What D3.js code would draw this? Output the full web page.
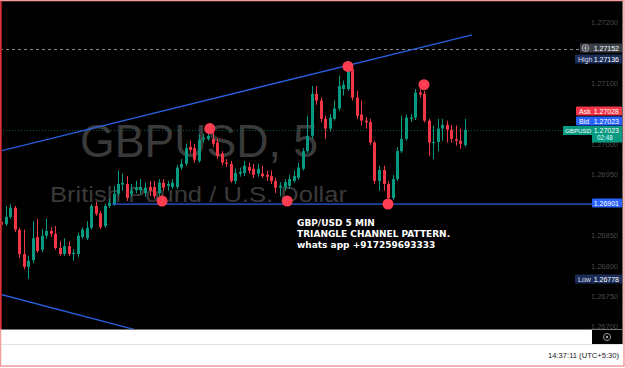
<!DOCTYPE html>
<html>
<head>
<meta charset="utf-8">
<script src="https://cdn.jsdelivr.net/npm/d3@7"></script>
<style>
html, body { margin: 0; padding: 0; background: #fff; overflow: hidden; }
svg { display: block; }
</style>
</head>
<body>
<div id="graf"></div>
<script>
// Datos de las velas (GBPUSD, 5 min)
const apertura = [1.26872,1.26868,1.26880,1.26895,1.26859,1.26819,1.26798,1.26809,1.26847,1.26826,
  1.26849,1.26857,1.26852,1.26829,1.26819,1.26832,1.26819,1.26819,1.26847,1.26845,
  1.26862,1.26898,1.26886,1.26865,1.26898,1.26901,1.26918,1.26933,1.26934,1.26918,
  1.26924,1.26924,1.26919,1.26929,1.26929,1.26919,1.26936,1.26931,1.26929,1.26929,
  1.26961,1.26967,1.26995,1.26993,1.26972,1.27007,1.27008,1.27008,1.27002,1.26984,
  1.26969,1.26967,1.26939,1.26951,1.26952,1.26962,1.26959,1.26951,1.26951,1.26949,
  1.26947,1.26939,1.26928,1.26929,1.26931,1.26939,1.26944,1.26959,1.26988,1.27013,
  1.27082,1.27071,1.27041,1.27025,1.27041,1.27058,1.27090,1.27090,1.27123,1.27076,
  1.27048,1.27038,1.27036,1.27002,1.26939,1.26957,1.26934,1.26911,1.26942,1.26988,
  1.27008,1.27041,1.27043,1.27084,1.27082,1.27038,1.27002,1.27003,1.27025,1.27031,
  1.27023,1.27008,1.27005,1.26998]
const maximo = [1.26875,1.26898,1.26901,1.26898,1.26862,1.26859,1.26816,1.26873,1.26877,1.26860,
  1.26877,1.26863,1.26865,1.26840,1.26845,1.26840,1.26827,1.26854,1.26863,1.26873,
  1.26901,1.26905,1.26890,1.26901,1.26910,1.26931,1.26956,1.26951,1.26947,1.26934,
  1.26939,1.26942,1.26936,1.26939,1.26939,1.26942,1.26942,1.26939,1.26942,1.26965,
  1.26975,1.27000,1.27005,1.27000,1.27016,1.27016,1.27020,1.27018,1.27008,1.26988,
  1.26975,1.26972,1.26959,1.26961,1.26972,1.26969,1.26967,1.26967,1.26964,1.26956,
  1.26956,1.26944,1.26937,1.26942,1.26949,1.26956,1.26969,1.26993,1.27046,1.27095,
  1.27095,1.27076,1.27046,1.27049,1.27071,1.27112,1.27104,1.27136,1.27128,1.27087,
  1.27071,1.27044,1.27041,1.27005,1.26964,1.26964,1.26939,1.26949,1.26995,1.27046,
  1.27048,1.27049,1.27090,1.27090,1.27087,1.27041,1.27030,1.27041,1.27041,1.27038,
  1.27031,1.27030,1.27025,1.27041]
const minimo = [1.26863,1.26865,1.26877,1.26855,1.26812,1.26794,1.26778,1.26804,1.26821,1.26822,
  1.26844,1.26847,1.26826,1.26816,1.26816,1.26816,1.26808,1.26814,1.26844,1.26842,
  1.26859,1.26882,1.26860,1.26862,1.26895,1.26898,1.26914,1.26923,1.26906,1.26913,
  1.26919,1.26918,1.26913,1.26914,1.26910,1.26914,1.26923,1.26923,1.26926,1.26926,
  1.26957,1.26964,1.26985,1.26969,1.26969,1.27002,1.27005,1.26995,1.26975,1.26965,
  1.26962,1.26936,1.26934,1.26946,1.26947,1.26951,1.26944,1.26946,1.26944,1.26939,
  1.26934,1.26919,1.26914,1.26923,1.26926,1.26936,1.26941,1.26956,1.26985,1.27008,
  1.27064,1.27035,1.27008,1.27020,1.27038,1.27054,1.27079,1.27087,1.27071,1.27041,
  1.27030,1.27025,1.26998,1.26934,1.26923,1.26923,1.26906,1.26908,1.26939,1.26985,
  1.27005,1.27036,1.27039,1.27076,1.27035,1.26980,1.26975,1.26988,1.27005,1.27002,
  1.27002,1.26997,1.26992,1.26995]
const cierre = [1.26867,1.26880,1.26895,1.26859,1.26819,1.26798,1.26808,1.26845,1.26824,1.26849,
  1.26857,1.26852,1.26829,1.26819,1.26832,1.26819,1.26821,1.26849,1.26859,1.26862,
  1.26898,1.26885,1.26863,1.26898,1.26903,1.26918,1.26934,1.26936,1.26911,1.26923,
  1.26928,1.26929,1.26928,1.26923,1.26914,1.26936,1.26928,1.26934,1.26936,1.26961,
  1.26967,1.26993,1.26990,1.26974,1.27007,1.27010,1.27013,1.27000,1.26980,1.26969,
  1.26967,1.26939,1.26952,1.26954,1.26964,1.26956,1.26949,1.26959,1.26947,1.26946,
  1.26939,1.26928,1.26931,1.26937,1.26942,1.26947,1.26961,1.26988,1.27013,1.27082,
  1.27071,1.27041,1.27025,1.27043,1.27058,1.27095,1.27097,1.27125,1.27076,1.27046,
  1.27038,1.27035,1.27002,1.26939,1.26957,1.26934,1.26911,1.26942,1.26988,1.27008,
  1.27043,1.27043,1.27084,1.27081,1.27038,1.27002,1.27003,1.27025,1.27031,1.27023,
  1.27008,1.27005,1.27000,1.27023]

// Marcas visibles del eje de precios (las demas quedan tapadas por etiquetas)
const ticksPrecio = [1.26700,1.26750,1.26800,1.26850,1.26950,1.27000,1.27100,1.27200]

// Niveles del lado derecho
const precioCruz = 1.27152
const precioAlto = 1.27136
const precioAsk = 1.27028
const precioBid = 1.27023
const precioActual = 1.27023
const precioSoporte = 1.26901
const precioBajo = 1.26778
const tiempoVela = '02:48'

// Dibujos: lineas [indice, precio] y puntos rojos
const lineaSuperior = [[-0.22, 1.26988], [104.7, 1.27179]]
const lineaInferior = [[-0.22, 1.26753], [30.2, 1.26694]]
const lineaSoporte = [[24.7, 1.26901], [135, 1.26901]]
const puntosRojos = [[35.8, 1.26906], [46.4, 1.27025], [63.6, 1.26906], [77.1, 1.27127], [86, 1.26901], [94, 1.27097]]

const notas = ['GBP/USD 5 MIN', 'TRIANGLE CHANNEL PATTERN.', 'whats app +917259693333']
const marcaAgua = ['GBPUSD, 5', 'British Pound / U.S. Dollar']
const horaReloj = '14:37:11 (UTC+5:30)'

// Configuración de tamaños
const ancho = 625
const alto = 368
const panelDerecho = 592
const panelAbajo = 329
const verde = '#089981'
const rojo = '#f23645'
const azul = '#2962ff'
const marino = '#1b2d57'
const fuente = 'Liberation Sans, Arial, sans-serif'

const svg = d3.select('#graf')
  .append('svg')
  .attr('width', ancho)
  .attr('height', alto)

// fondo blanco y panel negro
svg.append('rect').attr('width', ancho).attr('height', alto).attr('fill', '#fff')
svg.append('rect').attr('x', 0).attr('y', 0).attr('width', 623).attr('height', panelAbajo).attr('fill', '#000')

const x = d3.scaleLinear().domain([0, 103]).range([1, 464.5])
const y = d3.scaleLinear().domain([1.267, 1.272]).range([326.5, 22])

svg.append('clipPath').attr('id', 'recorte')
  .append('rect').attr('x', 2).attr('y', 3).attr('width', panelDerecho - 2).attr('height', panelAbajo - 3)

const grafico = svg.append('g').attr('clip-path', 'url(#recorte)')

// marca de agua
grafico.append('text')
  .attr('x', 80).attr('y', 157)
  .attr('textLength', 238).attr('lengthAdjust', 'spacingAndGlyphs')
  .attr('font-family', fuente).attr('font-size', 46)
  .attr('fill', '#3a3a3a')
  .text(marcaAgua[0])
grafico.append('text')
  .attr('x', 50).attr('y', 202)
  .attr('textLength', 297).attr('lengthAdjust', 'spacingAndGlyphs')
  .attr('font-family', fuente).attr('font-size', 22)
  .attr('fill', '#3a3a3a')
  .text(marcaAgua[1])

// linea del precio actual (punteada verde)
grafico.append('line')
  .attr('x1', 0).attr('x2', panelDerecho)
  .attr('y1', Math.round(y(precioActual)) + 0.5).attr('y2', Math.round(y(precioActual)) + 0.5)
  .attr('stroke', '#0a5e4e').attr('stroke-dasharray', '1,2')

// linea de la cruz (punteada gris)
grafico.append('line')
  .attr('x1', 0).attr('x2', panelDerecho)
  .attr('y1', Math.round(y(precioCruz)) - 1.5).attr('y2', Math.round(y(precioCruz)) - 1.5)
  .attr('stroke', '#8a8a8a').attr('stroke-dasharray', '3,3')

// velas
const indices = d3.range(apertura.length)
const velas = grafico.append('g')
velas.selectAll('line')
  .data(indices)
  .enter()
  .append('line')
  .attr('x1', i => Math.round(x(i)) + 0.5)
  .attr('x2', i => Math.round(x(i)) + 0.5)
  .attr('y1', i => y(maximo[i]))
  .attr('y2', i => y(minimo[i]))
  .attr('stroke', i => cierre[i] >= apertura[i] ? verde : rojo)
velas.selectAll('rect')
  .data(indices)
  .enter()
  .append('rect')
  .attr('x', i => Math.round(x(i)) - 1)
  .attr('width', 3)
  .attr('y', i => y(Math.max(apertura[i], cierre[i])))
  .attr('height', i => Math.max(1, Math.abs(y(apertura[i]) - y(cierre[i]))))
  .attr('fill', i => cierre[i] >= apertura[i] ? verde : rojo)

// lineas del canal
const trazo = d3.line().x(d => x(d[0])).y(d => y(d[1]))
;[lineaSuperior, lineaInferior, lineaSoporte].forEach(l => {
  grafico.append('path')
    .attr('d', trazo(l))
    .attr('fill', 'none')
    .attr('stroke', '#2a5fe0')
    .attr('stroke-width', 1.3)
})

// puntos rojos
grafico.selectAll('circle')
  .data(puntosRojos)
  .enter()
  .append('circle')
  .attr('cx', d => x(d[0]))
  .attr('cy', d => y(d[1]))
  .attr('r', 5.5)
  .attr('fill', '#ff3d50')

// notas
grafico.selectAll('.nota')
  .data(notas)
  .enter()
  .append('text')
  .attr('class', 'nota')
  .attr('x', 297)
  .attr('y', (d, i) => 226 + i * 11)
  .attr('font-family', 'DejaVu Sans, sans-serif')
  .attr('font-weight', 'bold')
  .attr('font-size', 9)
  .attr('fill', '#fff')
  .text(d => d)

// eje de precios
const ejePrecio = d3.axisRight(y)
  .tickValues(ticksPrecio)
  .tickFormat(d3.format('.5f'))
  .tickSize(0)
svg.append('g')
  .attr('transform', `translate(${panelDerecho}, 0)`)
  .call(ejePrecio)
  .call(g => g.select('.domain').remove())
  .call(g => g.selectAll('text')
    .attr('x', 26).attr('text-anchor', 'end')
    .attr('font-family', fuente).attr('font-size', 7.5)
    .attr('fill', '#4a4a4a'))

// etiquetas del lado derecho (desplazamiento en px para no encimarse)
const fmt = d3.format('.5f')
function etiqueta(precio, desplaza, x0, texto, color, nombre, colorNombre) {
  const yc = Math.round(y(precio)) + desplaza
  const g = svg.append('g')
  g.append('rect').attr('x', x0).attr('y', yc - 4.5).attr('width', 622 - x0).attr('height', 9)
    .attr('fill', color).attr('rx', 1)
  if (nombre) {
    g.append('text').attr('x', x0 + 3).attr('y', yc + 2.5)
      .attr('font-family', fuente).attr('font-size', 7).attr('fill', colorNombre)
      .text(nombre)
  }
  g.append('text').attr('x', 619).attr('y', yc + 2.5).attr('text-anchor', 'end')
    .attr('font-family', fuente).attr('font-size', 7).attr('fill', '#fff')
    .text(texto)
  return yc
}

const yCruz = etiqueta(precioCruz, -3, 580, fmt(precioCruz), '#3c3f48', null)
svg.append('circle').attr('cx', 585.5).attr('cy', yCruz).attr('r', 3.3)
  .attr('fill', 'none').attr('stroke', '#c8c8c8').attr('stroke-width', 0.8)
svg.append('path')
  .attr('d', `M583.5,${yCruz}h4M585.5,${yCruz - 2}v4`)
  .attr('stroke', '#c8c8c8').attr('stroke-width', 0.8)
etiqueta(precioAlto, -2, 575, fmt(precioAlto), marino, 'High', '#d8dcea')
etiqueta(precioAsk, -16, 576, fmt(precioAsk), rojo, 'Ask', '#fff')
etiqueta(precioBid, -9, 576, fmt(precioBid), azul, 'Bid', '#fff')

// etiqueta del precio actual con tiempo restante de la vela
const yAct = Math.round(y(precioActual)) + 0.5
svg.append('rect').attr('x', 563).attr('y', yAct - 4.5).attr('width', 30).attr('height', 9).attr('fill', verde)
svg.append('rect').attr('x', 592).attr('y', yAct - 4.5).attr('width', 30).attr('height', 16.5).attr('fill', verde)
svg.append('text').attr('x', 565).attr('y', yAct + 2.3)
  .attr('font-family', fuente).attr('font-size', 6.2).attr('fill', '#fff').text('GBPUSD')
svg.append('text').attr('x', 619).attr('y', yAct + 2.5).attr('text-anchor', 'end')
  .attr('font-family', fuente).attr('font-size', 7).attr('fill', '#fff').text(fmt(precioActual))
svg.append('text').attr('x', 597).attr('y', yAct + 9.6)
  .attr('font-family', fuente).attr('font-size', 6.3).attr('fill', '#dff').text(tiempoVela)

etiqueta(precioSoporte, -1, 592, fmt(precioSoporte), azul, null)
etiqueta(precioBajo, 0, 575, fmt(precioBajo), marino, 'Low', '#d8dcea')

// bordes y barra inferior
svg.append('line').attr('x1', 0).attr('x2', 623).attr('y1', panelAbajo + 0.5).attr('y2', panelAbajo + 0.5)
  .attr('stroke', '#777')
svg.append('line').attr('x1', 622.5).attr('x2', 622.5).attr('y1', 0).attr('y2', 345)
  .attr('stroke', '#666')
svg.append('rect').attr('x', panelDerecho).attr('y', panelAbajo + 1).attr('width', 30).attr('height', 15)
  .attr('fill', '#000')
svg.append('circle').attr('cx', 607).attr('cy', 337).attr('r', 3.5)
  .attr('fill', 'none').attr('stroke', '#aaa').attr('stroke-width', 0.9)
svg.append('circle').attr('cx', 607).attr('cy', 337).attr('r', 1.2).attr('fill', '#aaa')
svg.append('line').attr('x1', 0).attr('x2', 623).attr('y1', 344.5).attr('y2', 344.5)
  .attr('stroke', '#e0e3eb')
svg.append('text').attr('x', 619).attr('y', 358).attr('text-anchor', 'end')
  .attr('font-family', fuente).attr('font-size', 7.6).attr('fill', '#131722')
  .text(horaReloj)

svg.append('rect').attr('x', 0.5).attr('y', 0.5).attr('width', ancho - 1.5).attr('height', alto - 2.5)
  .attr('fill', 'none').attr('stroke', '#f49a9a').attr('stroke-width', 1.5)
svg.append('line').attr('x1', 1).attr('x2', 1).attr('y1', 1).attr('y2', panelAbajo)
  .attr('stroke', '#c0141c').attr('stroke-width', 1.5)
</script>
</body>
</html>
